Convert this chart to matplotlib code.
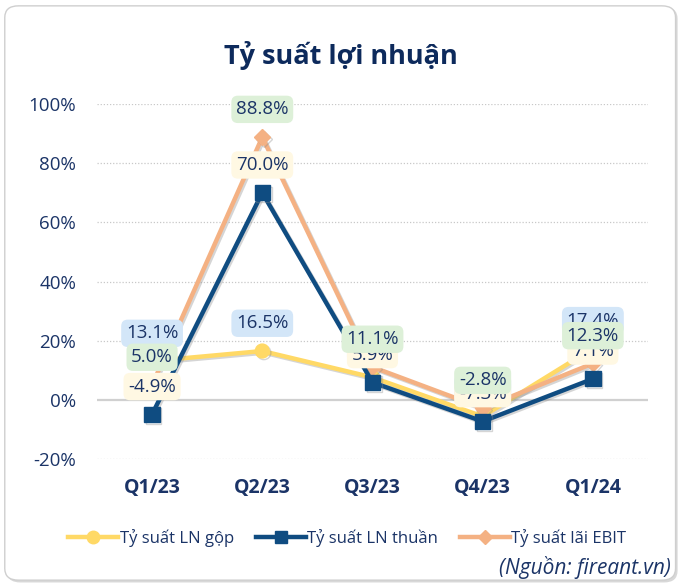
import matplotlib.pyplot as plt
from matplotlib.patches import FancyBboxPatch
from matplotlib.lines import Line2D
import matplotlib.patheffects as pe

# dữ liệu
quarters = ['Q1/23', 'Q2/23', 'Q3/23', 'Q4/23', 'Q1/24']
ln_gop = [13.1, 16.5, 7.6, -5.6, 17.4]
ln_thuan = [-4.9, 70.0, 5.9, -7.3, 7.1]
lai_ebit = [5.0, 88.8, 11.1, -2.8, 12.3]
yticks = [-20, 0, 20, 40, 60, 80, 100]

navy_text = '#1B3467'
c_gop = '#FFD966'
c_thuan = '#0F4C81'
c_ebit = '#F4B183'

plt.rcParams['font.family'] = ['Open Sans', 'DejaVu Sans']

fig = plt.figure(figsize=(6.81, 5.86), dpi=100)
fig.patch.set_facecolor('white')

# khung thẻ bo góc
card_shadow = FancyBboxPatch((0.010, 0.006), 0.985, 0.982, boxstyle='round,pad=0,rounding_size=0.02',
                             transform=fig.transFigure, facecolor='#d8d8d8', edgecolor='none', zorder=-3)
card = FancyBboxPatch((0.007, 0.010), 0.985, 0.980, boxstyle='round,pad=0,rounding_size=0.02',
                      transform=fig.transFigure, facecolor='white', edgecolor='#cfcfcf', linewidth=1.0, zorder=-2)
fig.patches.extend([card_shadow, card])

ax = fig.add_axes([0.1424, 0.2167, 0.8091, 0.6058])
ax.set_facecolor('none')
x = list(range(len(quarters)))

shadow = [pe.SimpleLineShadow(offset=(1.2, -1.2), shadow_color='#888888', alpha=0.35), pe.Normal()]
ax.plot(x, ln_gop, color=c_gop, lw=3.2, marker='o', ms=10, zorder=3, path_effects=shadow, clip_on=False)
ax.plot(x, lai_ebit, color=c_ebit, lw=3.2, marker='D', ms=8, zorder=4, path_effects=shadow, clip_on=False)
ax.plot(x, ln_thuan, color=c_thuan, lw=3.2, marker='s', ms=11, zorder=5, path_effects=shadow, clip_on=False)

# nhãn dữ liệu
def add_labels(vals, face, z):
    for i, v in enumerate(vals):
        ax.annotate(f'{v:.1f}%', (i, v), xytext=(0, 20), textcoords='offset points',
                    ha='center', va='center', fontsize=13.5, color=navy_text, zorder=z,
                    bbox=dict(boxstyle='round,pad=0.25,rounding_size=0.35', facecolor=face, edgecolor='none'))

add_labels(ln_gop, '#D3E6F8', 6)
add_labels(ln_thuan, '#FFF8E3', 7)
add_labels(lai_ebit, '#DDF0D8', 8)

ax.set_xlim(-0.5, 4.5)
ax.set_ylim(-20, 100)
ax.set_yticks(yticks)
ax.set_yticklabels([f'{t}%' for t in yticks])
ax.set_xticks(x)
ax.set_xticklabels(quarters, fontweight='bold')
ax.tick_params(axis='y', length=0, pad=15, labelsize=13.5, labelcolor=navy_text)
ax.tick_params(axis='x', length=0, pad=14, labelsize=14, labelcolor=navy_text)
for t in yticks:
    if t == 0:
        ax.axhline(0, color='#d0d0d0', lw=1.6, zorder=1)
    else:
        ax.axhline(t, color='#c8c8c8', lw=0.9, ls=(0, (1, 1.5)), zorder=1)
for s in ax.spines.values():
    s.set_visible(False)

fig.text(0.5, 0.905, 'Tỷ suất lợi nhuận', ha='center', va='center', fontsize=19.5,
         fontweight='bold', color='#0D2A5C')

handles = [Line2D([], [], color=c_gop, lw=3.2, marker='o', ms=9),
           Line2D([], [], color=c_thuan, lw=3.2, marker='s', ms=9),
           Line2D([], [], color=c_ebit, lw=3.2, marker='D', ms=7)]
fig.legend(handles, ['Tỷ suất LN gộp', 'Tỷ suất LN thuần', 'Tỷ suất lãi EBIT'], loc='center',
           bbox_to_anchor=(0.51, 0.082), ncol=3, frameon=False, fontsize=12,
           labelcolor=navy_text, handlelength=3.0, handletextpad=0.1, columnspacing=1.3)

fig.text(0.985, 0.032, '(Nguồn: fireant.vn)', ha='right', va='center', fontsize=15,
         style='italic', color=navy_text)

fig.savefig('out.png', dpi=100)
